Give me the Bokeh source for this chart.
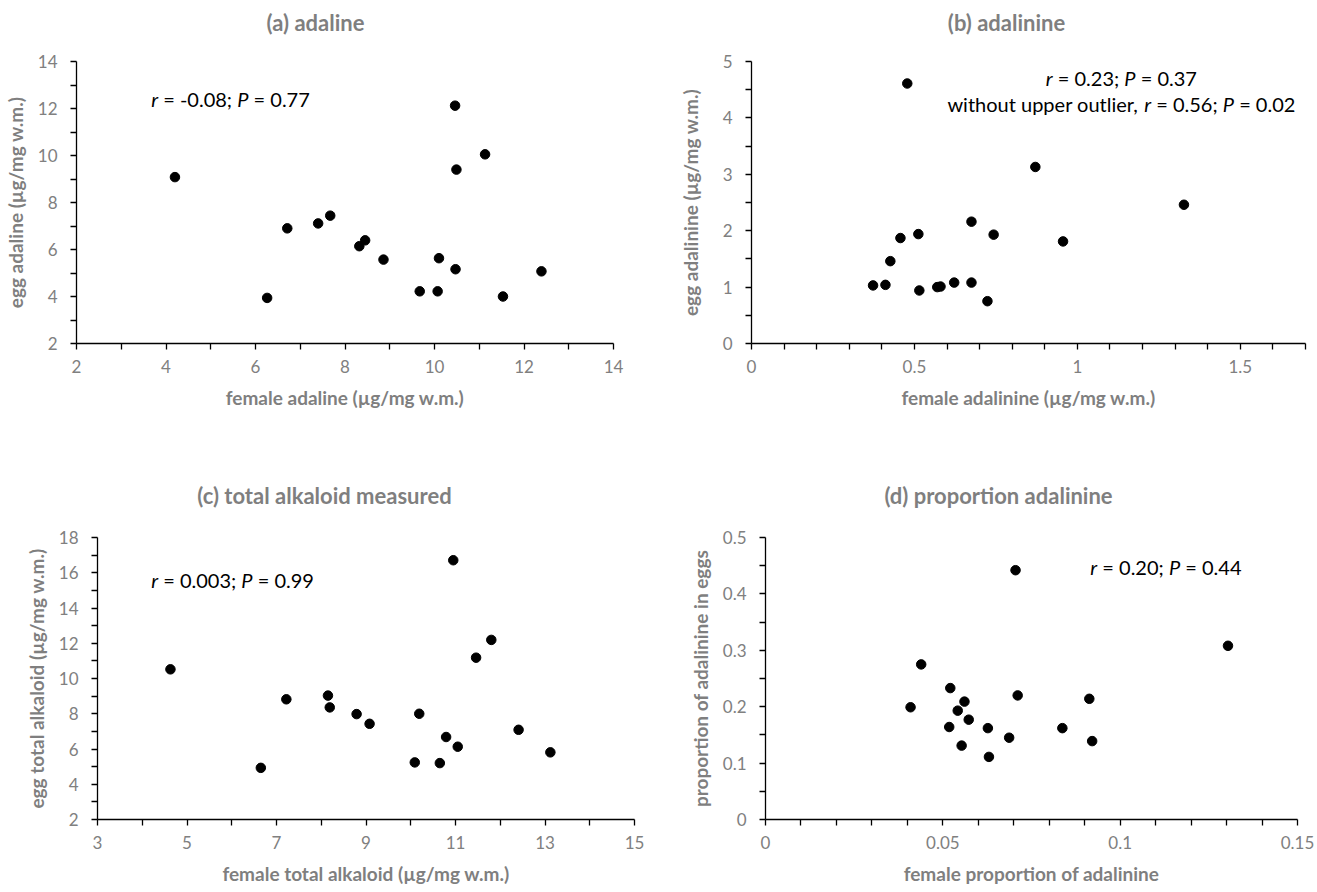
import os
import struct
from bokeh.plotting import figure
from bokeh.models import Range1d, LinearAxis, FixedTicker, CustomJSTickFormatter, Label
from bokeh.core.properties import value
from bokeh.layouts import column, row
from bokeh.embed import file_html
from bokeh.resources import INLINE

# ---------------- data ----------------
a_female = [4.20, 6.26, 6.71, 7.40, 7.67, 8.32, 8.45, 8.86, 9.67, 10.07, 10.10, 10.46, 10.49, 10.47, 11.13, 11.53, 12.39]
a_egg = [9.08, 3.94, 6.90, 7.11, 7.44, 6.14, 6.39, 5.57, 4.22, 4.22, 5.63, 12.12, 9.40, 5.16, 10.05, 4.00, 5.07]

b_female = [0.373, 0.411, 0.426, 0.457, 0.478, 0.512, 0.515, 0.570, 0.580, 0.622, 0.675, 0.675, 0.724, 0.743, 0.871, 0.956, 1.327]
b_egg = [1.03, 1.04, 1.46, 1.87, 4.61, 1.94, 0.94, 1.00, 1.01, 1.08, 2.16, 1.08, 0.75, 1.93, 3.13, 1.81, 2.46]

c_female = [4.63, 6.65, 7.22, 8.15, 8.19, 8.79, 9.08, 10.09, 10.19, 10.65, 10.79, 10.95, 11.05, 11.46, 11.80, 12.41, 13.12]
c_egg = [10.52, 4.93, 8.82, 9.03, 8.36, 7.98, 7.43, 5.24, 8.00, 5.20, 6.68, 16.71, 6.13, 11.18, 12.19, 7.09, 5.81]

d_female = [0.0409, 0.0439, 0.0518, 0.0521, 0.0542, 0.0553, 0.0561, 0.0573, 0.0627, 0.0630, 0.0687, 0.0705, 0.0711, 0.0837, 0.0913, 0.0921, 0.1304]
d_egg = [0.199, 0.275, 0.164, 0.233, 0.193, 0.131, 0.209, 0.177, 0.162, 0.111, 0.145, 0.442, 0.220, 0.162, 0.214, 0.139, 0.308]

titles = ["(a) adaline", "(b) adalinine", "(c) total alkaloid measured", "(d) proportion adalinine"]
x_labels = ["female adaline (µg/mg w.m.)", "female adalinine (µg/mg w.m.)",
            "female total alkaloid (µg/mg w.m.)", "female proportion of adalinine"]
y_labels = ["egg adaline (µg/mg w.m.)", "egg adalinine (µg/mg w.m.)",
            "egg total alkaloid (µg/mg w.m.)", "proportion of adalinine in eggs"]

a_xticks = [2, 4, 6, 8, 10, 12, 14]
a_xminor = [3, 5, 7, 9, 11, 13]
a_yticks = [2, 4, 6, 8, 10, 12, 14]
a_yminor = [3, 5, 7, 9, 11, 13]

b_xticks = [0, 0.5, 1, 1.5]
b_xminor = [0.1, 0.2, 0.3, 0.4, 0.6, 0.7, 0.8, 0.9, 1.1, 1.2, 1.3, 1.4, 1.6, 1.7]
b_yticks = [0, 1, 2, 3, 4, 5]
b_yminor = [0.5, 1.5, 2.5, 3.5, 4.5]

c_xticks = [3, 5, 7, 9, 11, 13, 15]
c_xminor = [4, 6, 8, 10, 12, 14]
c_yticks = [2, 4, 6, 8, 10, 12, 14, 16, 18]
c_yminor = [3, 5, 7, 9, 11, 13, 15, 17]

d_xticks = [0, 0.05, 0.1, 0.15]
d_xminor = [0.01, 0.02, 0.03, 0.04, 0.06, 0.07, 0.08, 0.09, 0.11, 0.12, 0.13, 0.14]
d_yticks = [0, 0.1, 0.2, 0.3, 0.4, 0.5]
d_yminor = [0.05, 0.15, 0.25, 0.35, 0.45]

ann_a = [[("r", "italic"), ("= -0.08;", "normal"), ("P", "italic"), ("= 0.77", "normal")]]
ann_b = [[("r", "italic"), ("= 0.23;", "normal"), ("P", "italic"), ("= 0.37", "normal")],
         [("without upper outlier,", "normal"), ("r", "italic"), ("= 0.56;", "normal"), ("P", "italic"), ("= 0.02", "normal")]]
ann_c = [[("r", "italic"), ("= 0.003;", "normal"), ("P", "italic"), ("= 0.99", "normal")]]
ann_d = [[("r", "italic"), ("= 0.20;", "normal"), ("P", "italic"), ("= 0.44", "normal")]]

# ---------------- style ----------------
FONT = "Lato"
TICK_COLOR = "#808080"
LABEL_COLOR = "#7f7f7f"
TICK_SIZE = "17px"
LABEL_SIZE = "19px"
TITLE_SIZE = "22px"
ANN_SIZE = 20


# ---------------- font metrics (for placing mixed italic text) ----------------
def find_font(fname):
    roots = ["/usr/share/fonts", "/usr/local/share/fonts",
             os.path.expanduser("~/.fonts"), os.path.expanduser("~/.local/share/fonts")]
    for root in roots:
        for dp, dn, fn in os.walk(root):
            for f in fn:
                if f.lower() == fname.lower():
                    return os.path.join(dp, f)
    return None


class FontMetrics:
    def __init__(self, path):
        self.ok = False
        if not path:
            return
        try:
            data = open(path, "rb").read()
            num = struct.unpack(">H", data[4:6])[0]
            tables = {}
            for i in range(num):
                tag, cs, off, ln = struct.unpack(">4sIII", data[12 + 16 * i:28 + 16 * i])
                tables[tag.decode("latin1")] = off
            self.upm = struct.unpack(">H", data[tables["head"] + 18:tables["head"] + 20])[0]
            self.nh = struct.unpack(">H", data[tables["hhea"] + 34:tables["hhea"] + 36])[0]
            ho = tables["hmtx"]
            self.adv = [struct.unpack(">H", data[ho + 4 * i:ho + 4 * i + 2])[0] for i in range(self.nh)]
            co = tables["cmap"]
            n = struct.unpack(">H", data[co + 2:co + 4])[0]
            self.segs = None
            for i in range(n):
                pid, eid, off = struct.unpack(">HHI", data[co + 4 + 8 * i:co + 12 + 8 * i])
                sub = co + off
                fmt = struct.unpack(">H", data[sub:sub + 2])[0]
                if fmt == 4:
                    segx2 = struct.unpack(">H", data[sub + 6:sub + 8])[0]
                    seg = segx2 // 2
                    ends = struct.unpack(">%dH" % seg, data[sub + 14:sub + 14 + segx2])
                    starts = struct.unpack(">%dH" % seg, data[sub + 16 + segx2:sub + 16 + 2 * segx2])
                    deltas = struct.unpack(">%dh" % seg, data[sub + 16 + 2 * segx2:sub + 16 + 3 * segx2])
                    rpos = sub + 16 + 3 * segx2
                    roffs = struct.unpack(">%dH" % seg, data[rpos:rpos + segx2])
                    self.segs = (ends, starts, deltas, roffs, rpos)
                    self.data = data
                    break
            self.ok = self.segs is not None
        except Exception:
            self.ok = False

    def glyph(self, c):
        ends, starts, deltas, roffs, rpos = self.segs
        for s in range(len(ends)):
            if c <= ends[s]:
                if c < starts[s]:
                    return 0
                if roffs[s] == 0:
                    return (c + deltas[s]) & 0xFFFF
                addr = rpos + 2 * s + roffs[s] + 2 * (c - starts[s])
                g = struct.unpack(">H", self.data[addr:addr + 2])[0]
                return (g + deltas[s]) & 0xFFFF if g else 0
        return 0

    def width(self, text, size):
        if not self.ok:
            return 0.54 * size * len(text)
        w = 0
        for ch in text:
            g = self.glyph(ord(ch))
            w += self.adv[min(g, self.nh - 1)]
        return w * size / self.upm


FM = {"normal": FontMetrics(find_font("Lato-Regular.ttf")),
      "italic": FontMetrics(find_font("Lato-Italic.ttf"))}
if not FM["italic"].ok:
    FM["italic"] = FM["normal"]


def add_annotation(p, lines, x, y, line_gap, align="left"):
    sp = FM["normal"].width(" ", ANN_SIZE)
    for li, pieces in enumerate(lines):
        offs = []
        cur = 0.0
        for txt, style in pieces:
            offs.append(cur)
            cur += FM[style].width(txt, ANN_SIZE) + sp
        total = cur - sp
        start = -total / 2 if align == "center" else 0.0
        for (txt, style), o in zip(pieces, offs):
            p.add_layout(Label(x=x, y=y, x_offset=start + o, y_offset=-li * line_gap,
                               text=txt, text_font=FONT, text_font_style=style,
                               text_font_size="%dpx" % ANN_SIZE, text_color="black",
                               text_align="left", text_baseline="middle"))


def style_axis(ax, label_standoff, axis_label_standoff):
    ax.axis_line_color = "black"
    ax.axis_line_width = 1.3
    ax.major_tick_line_color = "black"
    ax.major_tick_line_width = 1.3
    ax.major_tick_in = 0
    ax.major_tick_out = 6
    ax.minor_tick_line_color = "black"
    ax.minor_tick_line_width = 1.3
    ax.minor_tick_in = 0
    ax.minor_tick_out = 6
    ax.major_label_text_font = FONT
    ax.major_label_text_font_size = TICK_SIZE
    ax.major_label_text_color = TICK_COLOR
    ax.major_label_standoff = label_standoff
    ax.axis_label_text_font = FONT
    ax.axis_label_text_font_style = "bold"
    ax.axis_label_text_font_size = LABEL_SIZE
    ax.axis_label_text_color = LABEL_COLOR
    ax.axis_label_standoff = axis_label_standoff


def heading(text, w, h, cx, cy):
    """A strip that holds a panel heading; cx, cy are pixels from its bottom-left."""
    t = figure(width=w, height=h, x_range=Range1d(0, w), y_range=Range1d(0, h),
               min_border=0, x_axis_type=None, y_axis_type=None, title=None,
               output_backend="svg", toolbar_location=None)
    t.outline_line_color = None
    t.background_fill_color = "white"
    t.border_fill_color = "white"
    t.text(x=[cx], y=[cy], text=[text], text_font=value(FONT), text_font_style="bold",
           text_font_size=value(TITLE_SIZE), text_color=LABEL_COLOR,
           text_align="center", text_baseline="middle")
    return t


def make_panel(xs, ys, xr, yr, xt, xm, yt, ym, xl, yl,
               bl, fw, br, bt, fh, bb, ylab_standoff):
    p = figure(x_range=Range1d(*xr), y_range=Range1d(*yr),
               frame_width=fw, frame_height=fh,
               min_border_left=bl, min_border_right=br,
               min_border_top=bt, min_border_bottom=bb,
               x_axis_type=None, y_axis_type=None, title=None,
               output_backend="svg", toolbar_location=None)
    p.outline_line_color = None
    p.background_fill_color = "white"
    p.border_fill_color = "white"
    fmt = "return String(tick);"
    xa = LinearAxis(ticker=FixedTicker(ticks=xt, minor_ticks=xm),
                    formatter=CustomJSTickFormatter(code=fmt), axis_label=xl)
    ya = LinearAxis(ticker=FixedTicker(ticks=yt, minor_ticks=ym),
                    formatter=CustomJSTickFormatter(code=fmt), axis_label=yl)
    style_axis(xa, 10, 10)
    style_axis(ya, 13, ylab_standoff)
    p.add_layout(xa, "below")
    p.add_layout(ya, "left")
    p.scatter(xs, ys, size=9.5, marker="circle", fill_color="black", line_color="black")
    return p


# columns: row 1 a (0..674) b (674..1317); row 2 c (0..685) d (685..1317)
ta = heading(titles[0], 674, 46, 315, 24)
tb = heading(titles[1], 643, 46, 332, 24)
tc = heading(titles[2], 685, 82, 324, 27)
td = heading(titles[3], 632, 82, 313, 27)

pa = make_panel(a_female, a_egg, (2, 14), (2, 14), a_xticks, a_xminor, a_yticks, a_yminor,
                x_labels[0], y_labels[0], 75, 537, 62, 15, 282, 97, 8)
pb = make_panel(b_female, b_egg, (0, 1.7), (0, 5), b_xticks, b_xminor, b_yticks, b_yminor,
                x_labels[1], y_labels[1], 76, 554, 13, 15, 282, 97, 18)
pc = make_panel(c_female, c_egg, (3, 15), (2, 18), c_xticks, c_xminor, c_yticks, c_yminor,
                x_labels[2], y_labels[2], 97, 537, 51, 15, 282, 71, 8)
pd = make_panel(d_female, d_egg, (0, 0.15), (0, 0.5), d_xticks, d_xminor, d_yticks, d_yminor,
                x_labels[3], y_labels[3], 80, 532, 20, 15, 282, 71, 8)

add_annotation(pa, ann_a, 3.67, 12.40, 26)
add_annotation(pb, ann_b, 1.135, 4.705, 26, align="center")
add_annotation(pc, ann_c, 4.20, 15.58, 26)
add_annotation(pd, ann_d, 0.0916, 0.4475, 26)

layout = column(row(ta, tb), row(pa, pb), row(tc, td), row(pc, pd))
open("out.html", "w").write(file_html(layout, INLINE))
